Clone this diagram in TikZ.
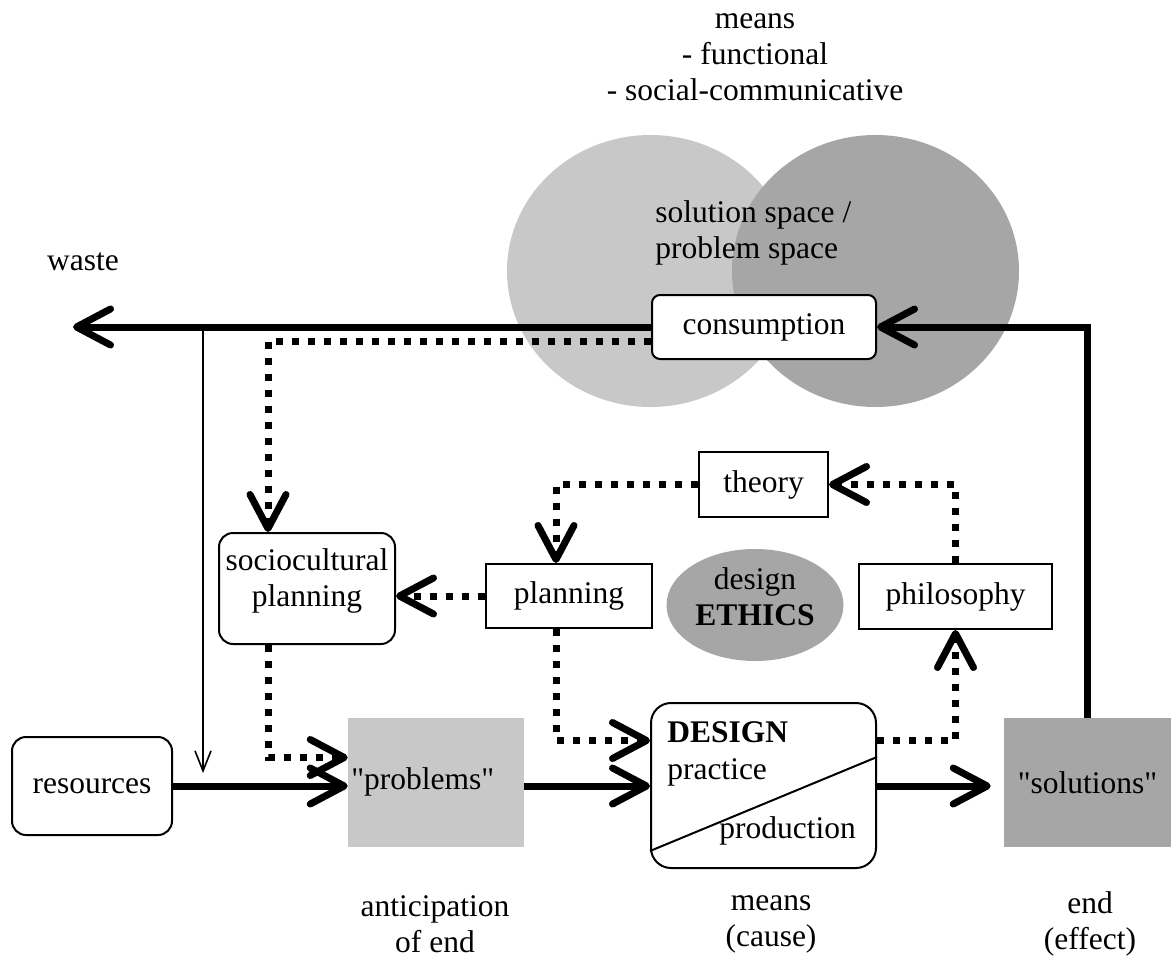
\documentclass[tikz,border=0pt]{standalone}
\usepackage{fontspec}
\setmainfont{Liberation Serif}
\usetikzlibrary{arrows.meta,shapes.geometric}
\definecolor{lightspace}{HTML}{C8C8C8}
\definecolor{darkspace}{HTML}{A6A6A6}
\newlength\pxu
\setlength\pxu{0.025cm}
\tikzset{
  plainbox/.style={draw, line width=2\pxu, rectangle, inner sep=2\pxu},
  softbox/.style={plainbox, fill=white, rounded corners=14\pxu},
  flowline/.style={line width=0.175cm, -{Straight Barb[length=0.85cm, width=0.9cm, round]}},
  dotline/.style={flowline, dash pattern=on 0.175cm off 0.225cm},
  thinline/.style={line width=0.04cm, -{Straight Barb[length=0.5cm, width=0.4cm]}},
}

\begin{document}
\begin{tikzpicture}[x=\pxu, y=-\pxu, font=\fontsize{22.4pt}{25.6pt}\selectfont]%
\useasboundingbox (0,0) rectangle (1171,959);%
\fill[lightspace] (650.5,271) ellipse [x radius=143.5\pxu, y radius=136\pxu];%
\fill[darkspace] (875.5,271) ellipse [x radius=143.5\pxu, y radius=136\pxu];%
\node[align=center] (meansnote) at (755,57) {means\\- functional\\- social-communicative};%
\node[anchor=west, align=left, inner sep=0] (spacenote) at (655,233) {solution space /\\problem space};%
\node (wastenote) at (83,262) {waste};%
\coordinate (wasteend) at (73,327);%
\coordinate (split) at (203,327);%
\coordinate (splitend) at (203,773);%
\node[softbox, minimum width=224\pxu, minimum height=64\pxu, rounded corners=8\pxu] (cons) at (764,327) {consumption};%
\node[plainbox, minimum width=129\pxu, minimum height=65\pxu] (theory) at (763.5,484.5) {theory};%
\node[plainbox, minimum width=166\pxu, minimum height=64\pxu] (plan) at (569,596) {planning};%
\node[plainbox, minimum width=193\pxu, minimum height=65\pxu] (phil) at (955.5,596.5) {philosophy};%
\node[softbox, minimum width=176\pxu, minimum height=111\pxu, align=center, text depth=22\pxu] (socio) at (307,588.5) {sociocultural\\planning};%
\node[ellipse, fill=darkspace, minimum width=177\pxu, minimum height=112\pxu, align=center, inner sep=0, text depth=16\pxu] (ethics) at (755,605) {design\\\textbf{ETHICS}};%
\node[softbox, minimum width=160\pxu, minimum height=98\pxu] (res) at (92,786) {resources};%
\node[fill=lightspace, inner sep=0, minimum width=176\pxu, minimum height=129\pxu] (prob) at (436,782.5) {};%
\node[anchor=west, inner sep=0] (probtxt) at (351,782) {\textquotedbl{}problems\textquotedbl};%
\node[softbox, minimum width=225\pxu, minimum height=165\pxu, rounded corners=20\pxu] (design) at (763.5,785.5) {};%
\node[anchor=west, inner sep=0] (designtxt) at (667,732) {\textbf{DESIGN}};%
\node[anchor=west, inner sep=0] (practice) at (667,772) {practice};%
\node[anchor=west, inner sep=0] (production) at (719,831) {production};%
\draw[line width=2\pxu] ([yshift=18\pxu]design.south west) -- ([yshift=28.5\pxu]design.east);%
\node[fill=darkspace, inner sep=0, minimum width=167\pxu, minimum height=129\pxu] (sol) at (1087.5,782.5) {\textquotedbl{}solutions\textquotedbl};%
\node[align=center] (antic) at (435,924) {anticipation\\of end};%
\node[align=center] (causenote) at (771,924) {means\\(cause)};%
\node[align=center] (effectnote) at (1090,924) {end\\(effect)};%
\draw[flowline] (cons.west) -- (wasteend);%
\draw[thinline] (split) -- (splitend);%
\draw[flowline] (res.east) -- (res.east -| prob.west);%
\draw[flowline] (prob.east |- res.east) -- (res.east -| design.west);%
\draw[flowline, shorten >=13\pxu] (design.east |- res.east) -- (res.east -| sol.west);%
\draw[flowline] (sol.north) |- (cons.east);%
\draw[dotline] ([yshift=-14\pxu]cons.west) -| ([xshift=-39\pxu]socio.north);%
\draw[dotline] (theory.west) -| ([xshift=-13\pxu]plan.north);%
\draw[dotline] (phil.north) |- (theory.east);%
\draw[dotline] (plan.west) -- (plan.west -| socio.east);%
\draw[dotline] ([xshift=-13\pxu]plan.south) |- ([yshift=45\pxu]design.west);%
\draw[dotline] ([xshift=-39\pxu]socio.south) |- ([yshift=25\pxu]prob.west);%
\draw[dotline] ([yshift=45\pxu]design.east) -| (phil.south);%
\end{tikzpicture}
\end{document}
